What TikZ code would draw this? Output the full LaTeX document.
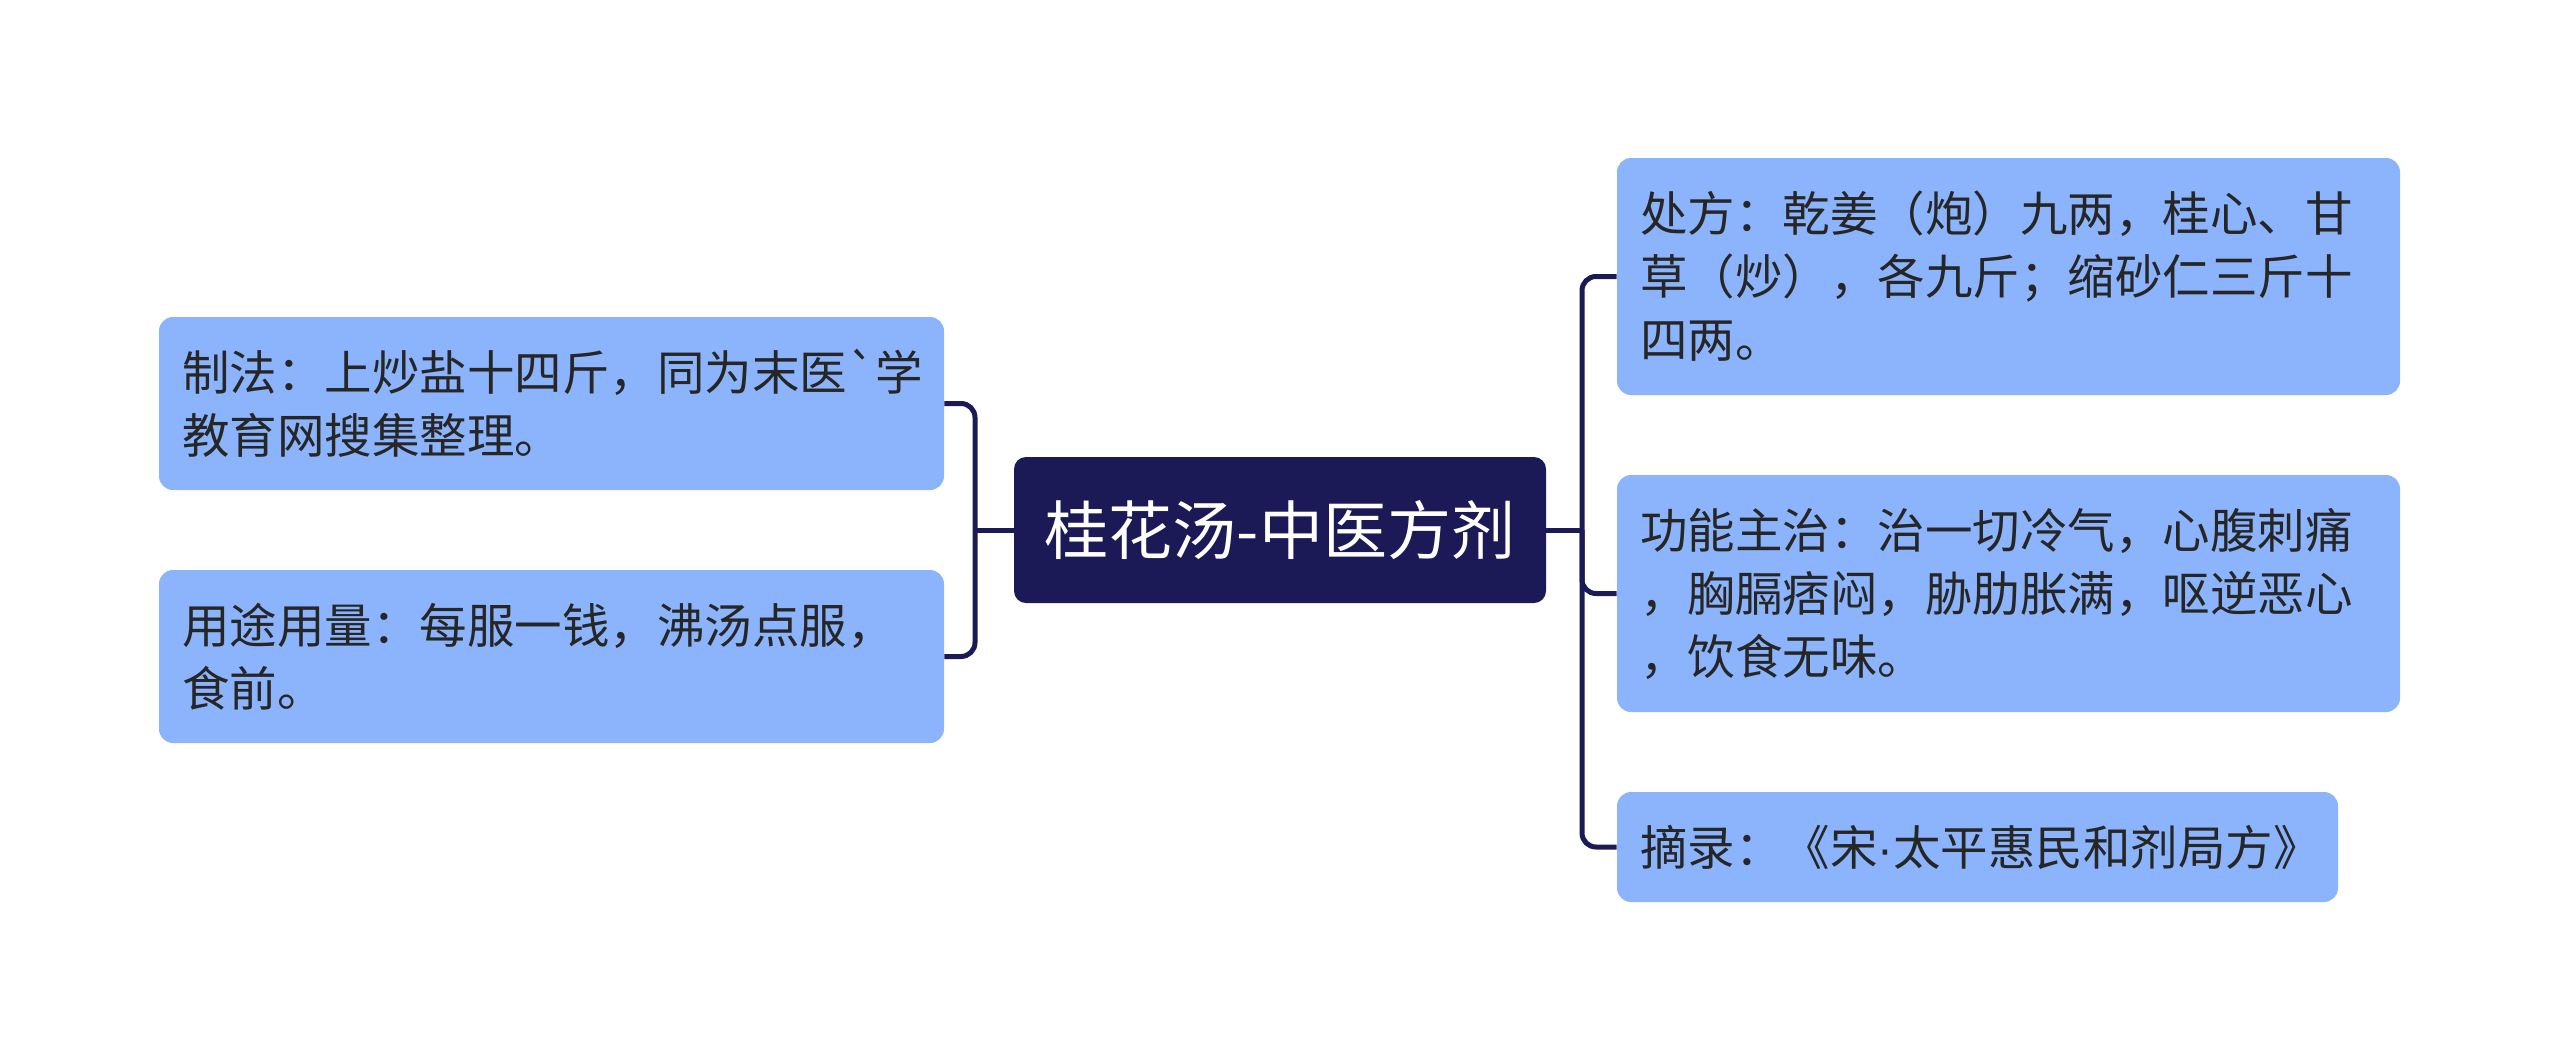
\documentclass[tikz,border=0pt]{standalone}
\usepackage{fontspec}
\newfontfamily\cjk{Noto Sans CJK SC}
\newfontfamily\latinf{Liberation Sans}
\definecolor{leaffill}{RGB}{139,180,252}
\definecolor{navy}{RGB}{27,25,86}
\definecolor{txt}{RGB}{38,38,38}
\begin{document}
\begin{tikzpicture}[x=0.5pt,y=-0.5pt,
  leafbox/.style={fill=leaffill, rounded corners=7pt, inner xsep=11.5pt, inner ysep=0pt, align=left, text=txt, font=\cjk\fontsize{23.75pt}{31.5pt}\selectfont, anchor=center},
  rootbox/.style={fill=navy, rounded corners=6pt, text=white, font=\cjk\fontsize{32pt}{38pt}\selectfont, minimum width=266pt, minimum height=73pt, inner sep=0pt},
  conn/.style={draw=navy, line width=2.5pt, rounded corners=7pt}]
\fill[white] (0,0) rectangle (2560,1061);
\useasboundingbox (0,0) rectangle (2560,1061);
\node[rootbox] (root) at (1280,530) {桂花汤-中医方剂};
\node[leafbox, text width=369.5pt, minimum height=86.5pt] (zf) at (551.5,403.5) {制法：上炒盐十四斤，同为末医`学\\教育网搜集整理。};
\node[leafbox, text width=369.5pt, minimum height=86.5pt] (yt) at (551.5,656.5) {用途用量：每服一钱，沸汤点服，\\食前。};
\node[leafbox, text width=368.5pt, minimum height=118.5pt] (cf) at (2008.5,276.5) {处方：乾姜（炮）九两，桂心、甘\\草（炒），各九斤；缩砂仁三斤十\\四两。};
\node[leafbox, text width=368.5pt, minimum height=118.5pt] (gn) at (2008.5,593.5) {功能主治：治一切冷气，心腹刺痛\\，胸膈痞闷，胁肋胀满，呕逆恶心\\，饮食无味。};
\node[leafbox, text width=337.5pt, minimum height=55pt] (zl) at (1977.5,847) {摘录：《宋{\latinf ·}太平惠民和剂局方》};
\coordinate (lj) at (975,530);
\coordinate (rj) at (1582,530);
\draw[conn] (zf.east) -| (lj) |- (yt.east);
\draw[conn] (lj) -- (root.west);
\draw[conn] (root.east) -- (rj);
\draw[conn] (cf.west) -| (rj) |- (zl.west);
\draw[conn] (rj) |- (gn.west);
\end{tikzpicture}
\end{document}
